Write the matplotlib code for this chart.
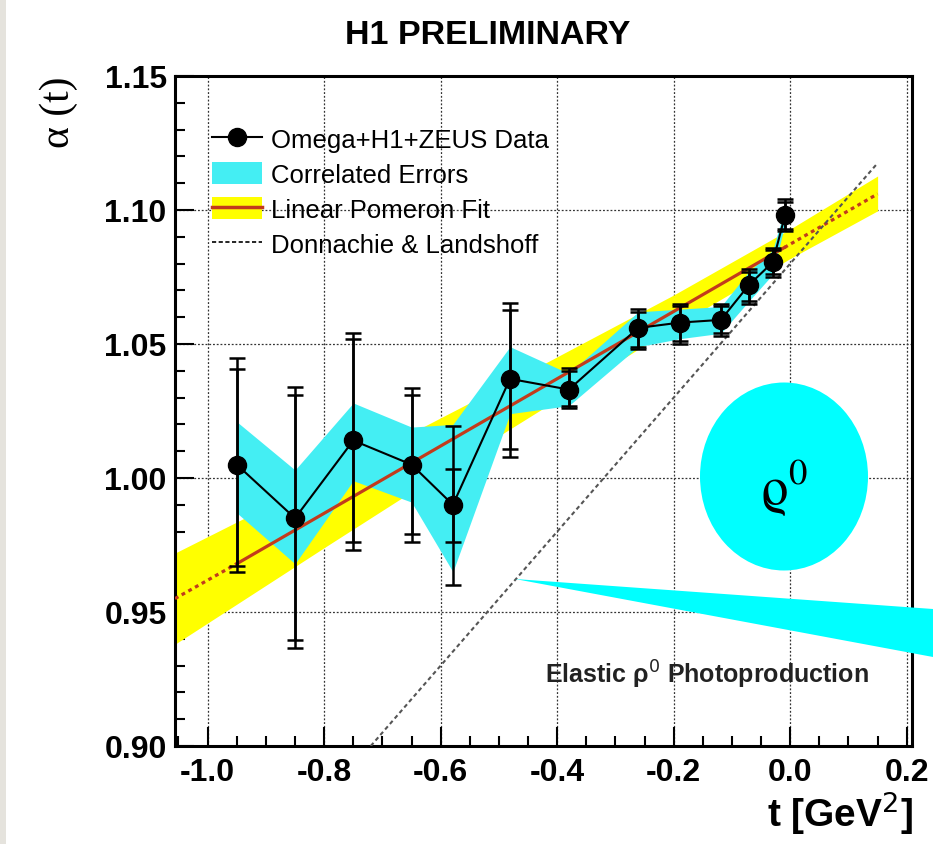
import matplotlib
matplotlib.use("Agg")
import matplotlib.pyplot as plt
from matplotlib.lines import Line2D
from matplotlib.patches import Patch, Ellipse, Polygon, Rectangle
from matplotlib.ticker import MultipleLocator, FormatStrFormatter

plt.rcParams['font.family'] = ['Liberation Sans', 'DejaVu Sans']
plt.rcParams['axes.unicode_minus'] = False

# Datos: trayectoria efectiva alpha(t) por bin de t
t_pts = [-0.950, -0.850, -0.750, -0.650, -0.579, -0.481, -0.380,
         -0.261, -0.189, -0.119, -0.071, -0.030, -0.009]
a_pts = [1.005, 0.985, 1.014, 1.005, 0.990, 1.037, 1.033,
         1.056, 1.058, 1.059, 1.072, 1.0805, 1.098]
# error total (exterior) y estadistico (interior)
outer_hi = [1.0447, 1.034, 1.0541, 1.0335, 1.0195, 1.0652, 1.041,
            1.063, 1.065, 1.065, 1.078, 1.086, 1.104]
outer_lo = [0.965, 0.9366, 0.973, 0.976, 0.960, 1.0077, 1.026,
            1.048, 1.050, 1.053, 1.065, 1.075, 1.092]
inner_hi = [1.0407, 1.031, 1.0519, 1.031, 1.0035, 1.0627, 1.040,
            1.062, 1.064, 1.064, 1.077, 1.085, 1.103]
inner_lo = [0.967, 0.9395, 0.976, 0.979, 0.976, 1.0108, 1.027,
            1.049, 1.051, 1.054, 1.066, 1.076, 1.093]
# banda de errores correlacionados
corr_hi = [1.021, 1.003, 1.028, 1.019, 1.020, 1.049, 1.039,
           1.062, 1.063, 1.064, 1.077, 1.085, 1.101]
corr_lo = [0.987, 0.968, 0.999, 0.991, 0.965, 1.024, 1.027,
           1.049, 1.052, 1.054, 1.066, 1.076, 1.095]

# ajuste lineal del pomeron
fit_t = [-1.056, -0.95, -0.01, 0.15]
fit_a = [0.955, 0.968, 1.086, 1.106]
fit_band_t = [-1.056, -0.8, -0.5, -0.2, 0.0, 0.15]
fit_band_lo = [0.938, 0.974, 1.0157, 1.0563, 1.0819, 1.0997]
fit_band_hi = [0.972, 1.000, 1.0337, 1.0683, 1.0929, 1.1127]

# Donnachie & Landshoff
dl_t = [-0.72, 0.15]
dl_a = [0.90, 1.1175]

CIAN = '#44eef3'
AMARILLO = '#ffff00'
ROJO = '#c23b1c'

W, H = 933, 845
fig = plt.figure(figsize=(W / 100, H / 100), dpi=100)
ax = fig.add_axes([175 / W, (H - 747) / H, 737 / W, 670 / H])

ax.fill_between(fit_band_t, fit_band_lo, fit_band_hi, color=AMARILLO, lw=0, zorder=1)
ax.fill_between(t_pts, corr_lo, corr_hi, color=CIAN, lw=0, zorder=2)

ax.plot(fit_t[1:3], fit_a[1:3], color=ROJO, lw=2.3, zorder=3)
ax.plot(fit_t[0:2], fit_a[0:2], color=ROJO, lw=2.3, ls=(0, (1.2, 1.2)), zorder=3)
ax.plot(fit_t[2:4], fit_a[2:4], color=ROJO, lw=2.3, ls=(0, (1.2, 1.2)), zorder=3)

ax.plot(dl_t, dl_a, color='#555555', lw=1.5, ls=(0, (2, 1.5)), zorder=3)

err_out = [[a - lo for a, lo in zip(a_pts, outer_lo)], [hi - a for a, hi in zip(a_pts, outer_hi)]]
err_in = [[a - lo for a, lo in zip(a_pts, inner_lo)], [hi - a for a, hi in zip(a_pts, inner_hi)]]
ax.errorbar(t_pts, a_pts, yerr=err_out, fmt='none', ecolor='k', elinewidth=1.8,
            capsize=6, capthick=1.8, zorder=4)
ax.errorbar(t_pts, a_pts, yerr=err_in, fmt='none', ecolor='k', elinewidth=1.8,
            capsize=6, capthick=1.8, zorder=4)
ax.plot(t_pts, a_pts, color='k', lw=1.5, marker='o', ms=13, zorder=5)

ax.set_xlim(-1.056, 0.209)
ax.set_ylim(0.90, 1.15)
ax.xaxis.set_major_locator(MultipleLocator(0.2))
ax.xaxis.set_minor_locator(MultipleLocator(0.05))
ax.yaxis.set_major_locator(MultipleLocator(0.05))
ax.yaxis.set_minor_locator(MultipleLocator(0.01))
ax.xaxis.set_major_formatter(FormatStrFormatter('%.1f'))
ax.yaxis.set_major_formatter(FormatStrFormatter('%.2f'))
ax.tick_params(which='both', direction='in', top=False, right=False, width=1.5)
ax.tick_params(which='major', length=14, labelsize=23)
ax.tick_params(which='minor', length=7)
ax.tick_params(axis='x', pad=8)
ax.tick_params(axis='y', pad=6)
for lab in ax.get_xticklabels() + ax.get_yticklabels():
    lab.set_fontweight('bold')
for sp in ax.spines.values():
    sp.set_linewidth(2.2)
ax.set_axisbelow(True)
ax.grid(True, which='major', color='#333333', lw=0.9, ls=(0, (1.5, 1.5)))

ax.text(-0.143, 0.927, r'Elastic ρ$^{0}$ Photoproduction', ha='center', va='center',
        fontsize=18, fontweight='bold', color='#222222', zorder=6,
        math_fontfamily='dejavusans')

# leyenda
handles = [
    Line2D([], [], color='k', lw=1.5, marker='o', ms=13),
    Patch(facecolor=CIAN, edgecolor='none'),
    (Patch(facecolor=AMARILLO, edgecolor='none'), Line2D([], [], color=ROJO, lw=2.5)),
    Line2D([], [], color='k', lw=1.2, ls=(0, (2.5, 1.5))),
]
labels = ['Omega+H1+ZEUS Data', 'Correlated Errors', 'Linear Pomeron Fit',
          'Donnachie & Landshoff']
ax.legend(handles, labels, loc='upper left', bbox_to_anchor=(0.050, 0.9235),
          frameon=False, fontsize=18.5, handlelength=1.95, handleheight=0.95,
          handletextpad=0.35, labelspacing=0.39, borderaxespad=0, borderpad=0)

# titulos y ejes
fig.text(487.5 / W, 1 - 35.5 / H, 'H1 PRELIMINARY', ha='center', va='center',
         fontsize=24.5, fontweight='bold')
fig.text(913 / W, 1 - 837 / H, r't [GeV$^{2}$]', ha='right', va='bottom',
         fontsize=28, fontweight='bold', math_fontfamily='dejavusans')
fig.text(59 / W, 1 - 77 / H, '\u03b1 (t)', ha='center', va='top', rotation=90,
         fontsize=30, family=['Liberation Serif', 'DejaVu Serif'])

# globo con la etiqueta rho
fig.add_artist(Ellipse((784 / W, 1 - 477.5 / H), 168 / W, 188 / H,
                       transform=fig.transFigure, color='#00ffff', lw=0, zorder=10))
fig.add_artist(Polygon([(515 / W, 1 - 580 / H), (1.0, 1 - 610 / H), (1.0, 1 - 658 / H)],
                       closed=True, transform=fig.transFigure, color='#00ffff', lw=0, zorder=10))
fig.text(784 / W, 1 - 488 / H, r'$\mathrm{\varrho}^{0}$', ha='center', va='center',
         fontsize=38, zorder=11, math_fontfamily='stix')

fig.add_artist(Rectangle((0, 0), 6 / W, 1, transform=fig.transFigure,
                         color='#e5e3dd', lw=0, zorder=-1))

fig.savefig('out.png', dpi=100)
